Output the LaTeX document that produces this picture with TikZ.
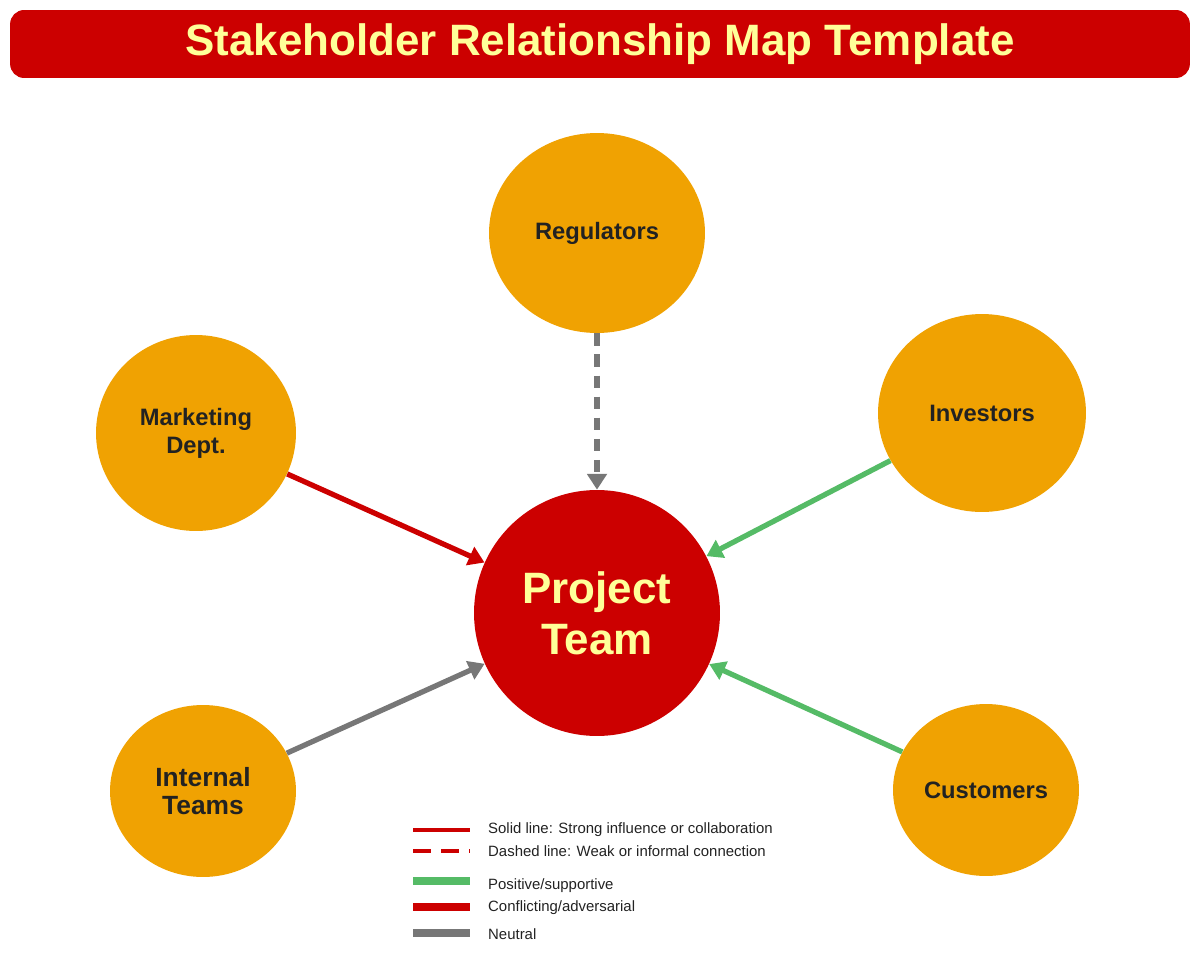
\documentclass[tikz,border=0pt]{standalone}
\usepackage{fontspec}
\setmainfont{Liberation Sans}
\usetikzlibrary{arrows.meta}
\definecolor{titlered}{HTML}{CC0000}
\definecolor{paleyellow}{HTML}{FFFF99}
\definecolor{stakeorange}{HTML}{F0A202}
\definecolor{posgreen}{HTML}{55BB66}
\definecolor{neutralgray}{HTML}{777777}
\definecolor{labeltext}{HTML}{222222}
\tikzset{
  stakeholder/.style={ellipse, fill=stakeorange, inner sep=0pt, align=center,
    text=labeltext, font=\fontsize{13.5}{16}\selectfont\bfseries},
  link/.style={line width=3pt, -{Triangle[length=9pt,width=11pt]}},
  legline/.style={line width=2pt},
  legbar/.style={line width=5pt},
  legtext/.style={anchor=west, font=\fontsize{8.5}{10}\selectfont, text=labeltext}
}
\usetikzlibrary{shapes.geometric}
\begin{document}
\begin{tikzpicture}[x=0.02cm, y=-0.02cm]
\useasboundingbox (0,0) rectangle (1200,953);

\node[fill=titlered, rounded corners=8pt, minimum width=23.6cm, minimum height=1.36cm,
  text=paleyellow, font=\fontsize{25}{30}\selectfont\bfseries] (title) at (600,44)
  {Stakeholder Relationship Map Template};

\node[circle, fill=titlered, minimum size=4.92cm, align=center, text=paleyellow,
  font=\fontsize{25}{29}\selectfont\bfseries] (team) at (597,613) {Project\\Team};

\node[stakeholder, minimum width=4.32cm, minimum height=4cm] (reg) at (597,233) {Regulators};
\node[stakeholder, minimum width=4cm, minimum height=3.92cm] (mkt) at (196,433) {Marketing\\Dept.};
\node[stakeholder, minimum width=4.16cm, minimum height=3.96cm] (inv) at (982,413) {Investors};
\node[stakeholder, minimum width=3.72cm, minimum height=3.44cm] (int) at (203,791)
  {\fontsize{15}{18}\selectfont Internal\\\fontsize{15}{18}\selectfont Teams};
\node[stakeholder, minimum width=3.72cm, minimum height=3.44cm] (cus) at (986,790) {Customers};

\draw[link, neutralgray, dash pattern=on 7pt off 5pt] (reg) -- (team);
\draw[link, titlered] (mkt) -- (team);
\draw[link, posgreen] (inv) -- (team);
\draw[link, neutralgray] (int) -- (team);
\draw[link, posgreen] (cus) -- (team);

% legend
\coordinate (l1) at (413,830);
\coordinate (l2) at (413,851);
\coordinate (l3) at (413,881);
\coordinate (l4) at (413,907);
\coordinate (l5) at (413,933);
\draw[legline, titlered] (l1) -- ++(57,0);
\draw[legline, titlered, dash pattern=on 10pt off 6pt] (l2) -- ++(57,0);
\draw[legbar, posgreen] (l3) -- ++(57,0);
\draw[legbar, titlered] (l4) -- ++(57,0);
\draw[legbar, neutralgray] (l5) -- ++(57,0);
\node[legtext] (t1) at (482,830) {Solid line: Strong influence or collaboration};
\node[legtext] (t2) at (482,851) {Dashed line: Weak or informal connection};
\node[legtext] (t3) at (482,886) {Positive/supportive};
\node[legtext] (t4) at (482,908) {Conflicting/adversarial};
\node[legtext] (t5) at (482,934) {Neutral};
\end{tikzpicture}
\end{document}
